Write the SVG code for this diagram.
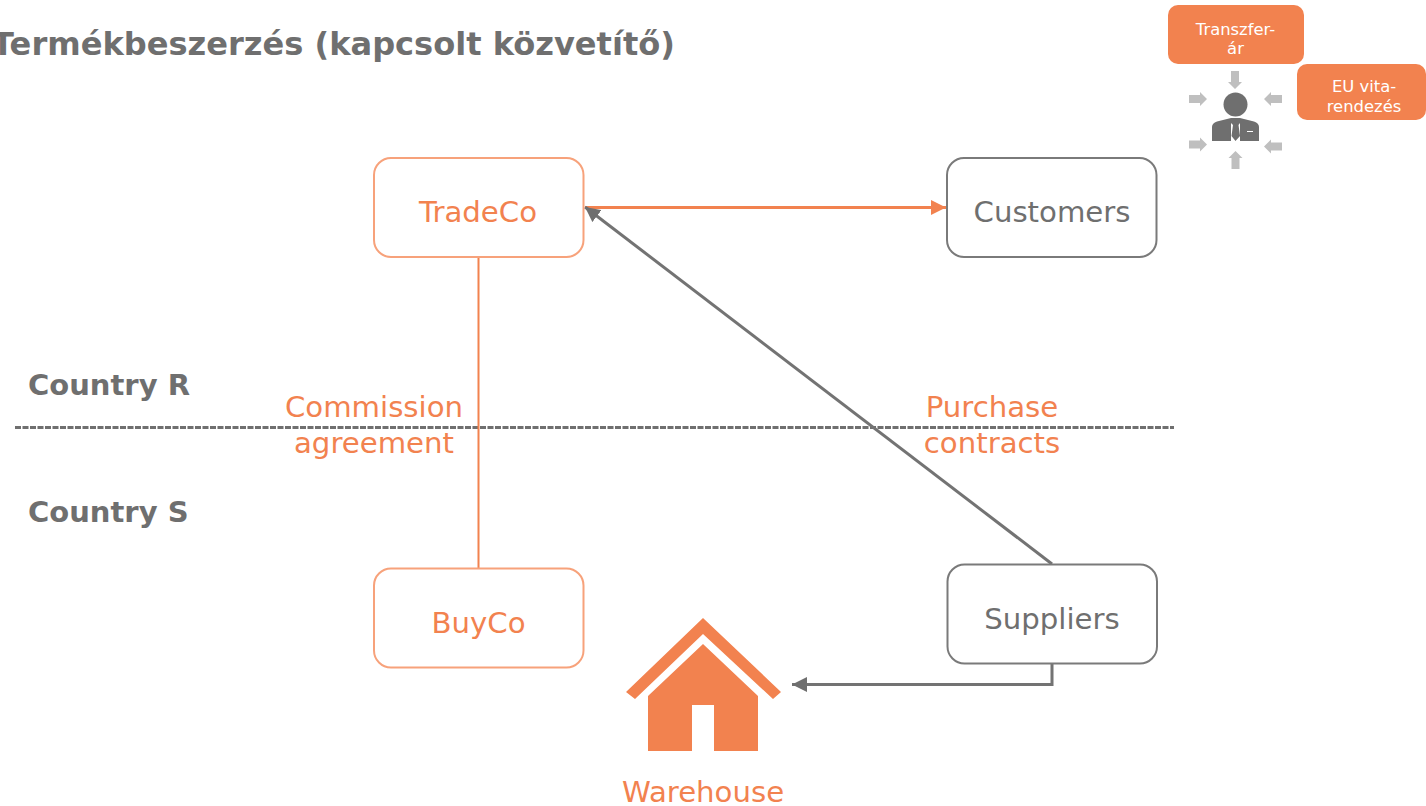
<svg xmlns="http://www.w3.org/2000/svg" width="1426" height="806" viewBox="0 0 1426 806">
<style>
text{font-family:"DejaVu Sans",Verdana,sans-serif}
.o{fill:#f2824f}.g{fill:#6f6f6f}
.l{font-size:29.200px}.b{font-weight:bold;font-size:29px}
.s{font-size:16.400px;fill:#fff}
.m{text-anchor:middle}
.boxo{fill:#fff;stroke:#f7a27b;stroke-width:2}
.boxg{fill:#fff;stroke:#7a7a7a;stroke-width:2}
.ar{fill:#bfbfbf}
</style>
<defs>
<marker id="ao" markerUnits="userSpaceOnUse" markerWidth="16" markerHeight="16" refX="15" refY="8" orient="auto"><path d="M0 0.500L15 8L0 15.500z" fill="#f2824f"/></marker>
<marker id="ag" markerUnits="userSpaceOnUse" markerWidth="16" markerHeight="16" refX="15" refY="8" orient="auto"><path d="M0 0.500L15 8L0 15.500z" fill="#6f6f6f"/></marker>
<path id="arw" class="ar" d="M0 -4H11V-7L18 0L11 7V4H0z"/>
</defs>
<text class="g" x="-8" y="55" font-size="32.500" font-weight="bold" textLength="683" lengthAdjust="spacingAndGlyphs">Termékbeszerzés (kapcsolt közvetítő)</text>
<text class="g b" x="28" y="395">Country R</text>
<text class="g b" x="28" y="522">Country S</text>
<g id="connectors" fill="none">
<line x1="15" y1="427.500" x2="1174" y2="427.500" stroke="#6f6f6f" stroke-width="3" stroke-dasharray="6 1.500"/>
<line x1="478.500" y1="257" x2="478.500" y2="568" stroke="#f2824f" stroke-width="2"/>
<line x1="585" y1="207.500" x2="946" y2="207.500" stroke="#f2824f" stroke-width="3" marker-end="url(#ao)"/>
<line x1="1052" y1="564" x2="585" y2="207" stroke="#737373" stroke-width="3" marker-end="url(#ag)"/>
<path d="M1052 664V684.500H792" stroke="#737373" stroke-width="3" marker-end="url(#ag)"/>
</g>
<g id="tradeco"><rect class="boxo" x="374" y="158" width="209.500" height="99" rx="17"/><text class="o l m" x="478" y="222">TradeCo</text></g>
<g id="customers"><rect class="boxg" x="947" y="158" width="209.500" height="99" rx="17"/><text class="g l m" x="1052" y="222">Customers</text></g>
<g id="buyco"><rect class="boxo" x="374" y="568.500" width="209.500" height="99" rx="17"/><text class="o l m" x="478.500" y="633">BuyCo</text></g>
<g id="suppliers"><rect class="boxg" x="947.500" y="564.500" width="209.500" height="99" rx="17"/><text class="g l m" x="1052" y="629">Suppliers</text></g>
<g id="commission"><text class="o l m" x="374" y="417">Commission</text><text class="o l m" x="374" y="453">agreement</text></g>
<g id="purchase"><text class="o l m" x="992" y="417">Purchase</text><text class="o l m" x="992" y="453">contracts</text></g>
<g id="warehouse">
<path class="o" d="M703 618L781 692L773 699L703 634L635 699L626 692z"/>
<path class="o" fill-rule="evenodd" d="M703 644L758 696V751H714V705H692V751H648V696z"/>
<text class="o l m" x="703" y="802">Warehouse</text>
</g>
<g id="transferar"><rect x="1168" y="5" width="136" height="59" rx="10" fill="#f2824f"/><text class="s m" x="1235.500" y="35">Transzfer-</text><text class="s m" x="1235.500" y="54">ár</text></g>
<g id="euvita"><rect x="1297" y="64" width="129" height="56" rx="10" fill="#f2824f"/><text class="s m" x="1364" y="92">EU vita-</text><text class="s m" x="1364" y="112">rendezés</text></g>
<g id="person">
<circle class="g" cx="1235.500" cy="104.500" r="12"/>
<path class="g" d="M1212 141V127Q1212 123 1217 121.500L1231 118V141zM1259 141V127Q1259 123 1254 121.500L1240 118V141z"/>
<path class="g" d="M1231 118H1240V123L1238.500 125L1240 136L1235.500 141L1231.500 136L1233 125L1231 123z"/>
<rect x="1247" y="131" width="6" height="1" fill="#fff"/>
<use href="#arw" transform="translate(1189 99)"/>
<use href="#arw" transform="translate(1189 144.500)"/>
<use href="#arw" transform="translate(1282 99) rotate(180)"/>
<use href="#arw" transform="translate(1282 146.500) rotate(180)"/>
<use href="#arw" transform="translate(1235 71) rotate(90)"/>
<use href="#arw" transform="translate(1235.500 169) rotate(-90)"/>
</g>
</svg>
